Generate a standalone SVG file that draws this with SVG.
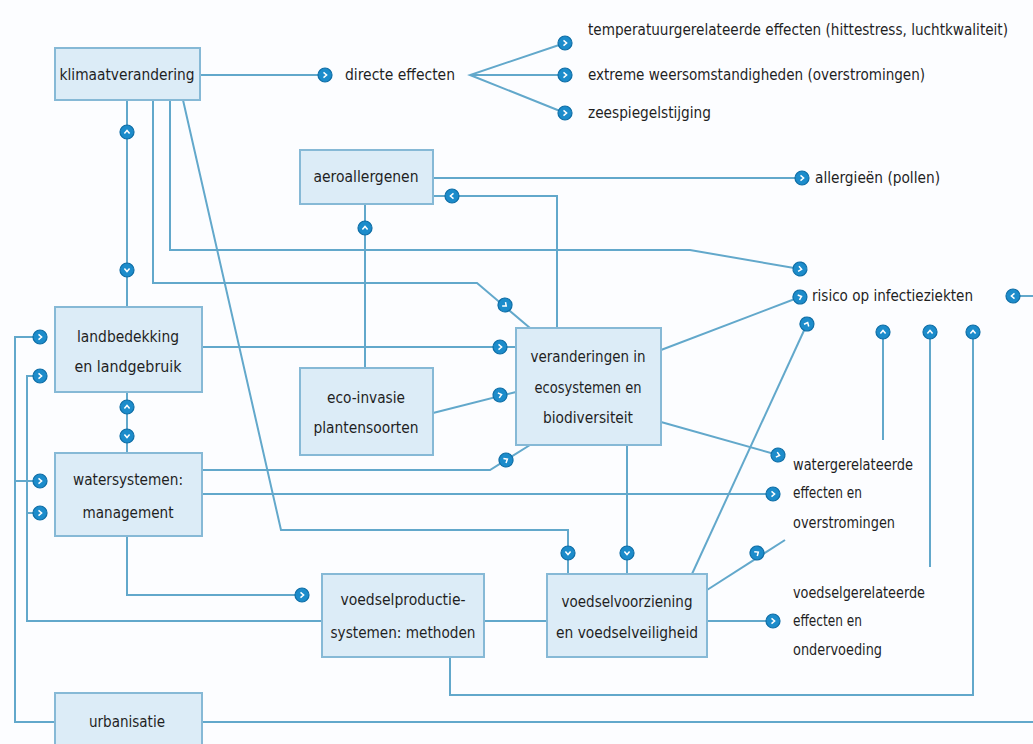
<svg xmlns="http://www.w3.org/2000/svg" xmlns:xlink="http://www.w3.org/1999/xlink" width="1033" height="744" viewBox="0 0 1033 744">
<style>
.bg{fill:#fcfdff}
.box{fill:#dcecf7;stroke:#86b9d6;stroke-width:2}
.ln{fill:none;stroke:#62a8cb;stroke-width:2}
.t{font-family:"Liberation Sans Narrow","DejaVu Sans Condensed","Liberation Sans",sans-serif;font-size:16px;fill:#1f1f1f}
.c{text-anchor:middle}
</style>
<defs>
<g id="d">
<circle r="7" fill="#1c8ccb" stroke="#0f6ea6" stroke-width="1.2"/>
<path d="M-1.5,-2.6 L1.6,0 L-1.5,2.6" fill="none" stroke="#ffffff" stroke-width="1.5"/>
</g>
</defs>
<rect class="bg" x="0" y="0" width="1033" height="744"/>

<g id="connectors">
<path class="ln" d="M200,75 H325"/>
<path class="ln" d="M565,43 L470,75 L565,113 M470,75 H565"/>
<path class="ln" d="M127,100 V307"/>
<path class="ln" d="M127,392 V453"/>
<path class="ln" d="M153,100 V283 H477 L530,328"/>
<path class="ln" d="M170,100 V250 H690 L800,269"/>
<path class="ln" d="M183,100 L281,530 H568 V574"/>
<path class="ln" d="M433,178 H802"/>
<path class="ln" d="M433,196 H557 V328"/>
<path class="ln" d="M365,204 V368"/>
<path class="ln" d="M202,347 H516"/>
<path class="ln" d="M433,413 L516,392"/>
<path class="ln" d="M202,470 H490 L530,445"/>
<path class="ln" d="M202,494 H773"/>
<path class="ln" d="M661,350 L800,297"/>
<path class="ln" d="M661,422 L778,455"/>
<path class="ln" d="M627,445 V574"/>
<path class="ln" d="M692,574 L807,324"/>
<path class="ln" d="M707,590 L785,540"/>
<path class="ln" d="M707,621 H773"/>
<path class="ln" d="M484,621 H547"/>
<path class="ln" d="M322,621 H27 V376 H40 M27,513 H40"/>
<path class="ln" d="M55,722 H15 V337 H40 M15,481 H40"/>
<path class="ln" d="M127,536 V595 H302"/>
<path class="ln" d="M450,657 V695 H973 V332"/>
<path class="ln" d="M930,332 V567"/>
<path class="ln" d="M883,332 V440"/>
<path class="ln" d="M1013,296 H1033"/>
<path class="ln" d="M202,722 H1033"/>

<use xlink:href="#d" transform="translate(325,75)"/>
<use xlink:href="#d" transform="translate(565,43)"/>
<use xlink:href="#d" transform="translate(565,75)"/>
<use xlink:href="#d" transform="translate(565,113)"/>
<use xlink:href="#d" transform="translate(802,178)"/>
<use xlink:href="#d" transform="translate(452,196) rotate(180)"/>
<use xlink:href="#d" transform="translate(365,228) rotate(-90)"/>
<use xlink:href="#d" transform="translate(127,132) rotate(-90)"/>
<use xlink:href="#d" transform="translate(127,270) rotate(90)"/>
<use xlink:href="#d" transform="translate(127,407) rotate(-90)"/>
<use xlink:href="#d" transform="translate(127,436) rotate(90)"/>
<use xlink:href="#d" transform="translate(40,337)"/>
<use xlink:href="#d" transform="translate(40,376)"/>
<use xlink:href="#d" transform="translate(40,481)"/>
<use xlink:href="#d" transform="translate(40,513)"/>
<use xlink:href="#d" transform="translate(505,305) rotate(40)"/>
<use xlink:href="#d" transform="translate(500,347)"/>
<use xlink:href="#d" transform="translate(500,395) rotate(-15)"/>
<use xlink:href="#d" transform="translate(506,460) rotate(-30)"/>
<use xlink:href="#d" transform="translate(800,269) rotate(10)"/>
<use xlink:href="#d" transform="translate(800,297) rotate(-20)"/>
<use xlink:href="#d" transform="translate(807,324) rotate(-65)"/>
<use xlink:href="#d" transform="translate(1013,296) rotate(180)"/>
<use xlink:href="#d" transform="translate(883,332) rotate(-90)"/>
<use xlink:href="#d" transform="translate(930,332) rotate(-90)"/>
<use xlink:href="#d" transform="translate(973,332) rotate(-90)"/>
<use xlink:href="#d" transform="translate(778,455) rotate(15)"/>
<use xlink:href="#d" transform="translate(773,494)"/>
<use xlink:href="#d" transform="translate(773,621)"/>
<use xlink:href="#d" transform="translate(757,553) rotate(-35)"/>
<use xlink:href="#d" transform="translate(568,553) rotate(90)"/>
<use xlink:href="#d" transform="translate(627,553) rotate(90)"/>
<use xlink:href="#d" transform="translate(302,595)"/>
</g>

<g id="klimaatverandering">
<rect class="box" x="55" y="48" width="145" height="52"/>
<text class="t c" x="127" y="80" textLength="135" lengthAdjust="spacingAndGlyphs">klimaatverandering</text>
</g>
<g id="aeroallergenen">
<rect class="box" x="300" y="150" width="133" height="54"/>
<text class="t c" x="366" y="182" textLength="105" lengthAdjust="spacingAndGlyphs">aeroallergenen</text>
</g>
<g id="landbedekking">
<rect class="box" x="55" y="307" width="147" height="85"/>
<text class="t c" x="128" y="342" textLength="102" lengthAdjust="spacingAndGlyphs">landbedekking</text>
<text class="t c" x="128" y="372" textLength="107" lengthAdjust="spacingAndGlyphs">en landgebruik</text>
</g>
<g id="eco-invasie">
<rect class="box" x="300" y="368" width="133" height="87"/>
<text class="t c" x="366" y="403" textLength="78" lengthAdjust="spacingAndGlyphs">eco-invasie</text>
<text class="t c" x="366" y="433" textLength="105" lengthAdjust="spacingAndGlyphs">plantensoorten</text>
</g>
<g id="veranderingen">
<rect class="box" x="516" y="328" width="145" height="117"/>
<text class="t c" x="588" y="362" textLength="115" lengthAdjust="spacingAndGlyphs">veranderingen in</text>
<text class="t c" x="588" y="393" textLength="107" lengthAdjust="spacingAndGlyphs">ecosystemen en</text>
<text class="t c" x="588" y="423" textLength="90" lengthAdjust="spacingAndGlyphs">biodiversiteit</text>
</g>
<g id="watersystemen">
<rect class="box" x="55" y="453" width="147" height="83"/>
<text class="t c" x="128" y="485" textLength="110" lengthAdjust="spacingAndGlyphs">watersystemen:</text>
<text class="t c" x="128" y="518" textLength="91" lengthAdjust="spacingAndGlyphs">management</text>
</g>
<g id="voedselproductie">
<rect class="box" x="322" y="574" width="162" height="83"/>
<text class="t c" x="403" y="605" textLength="125" lengthAdjust="spacingAndGlyphs">voedselproductie-</text>
<text class="t c" x="403" y="638" textLength="145" lengthAdjust="spacingAndGlyphs">systemen: methoden</text>
</g>
<g id="voedselvoorziening">
<rect class="box" x="547" y="574" width="160" height="83"/>
<text class="t c" x="627" y="607" textLength="131" lengthAdjust="spacingAndGlyphs">voedselvoorziening</text>
<text class="t c" x="627" y="638" textLength="142" lengthAdjust="spacingAndGlyphs">en voedselveiligheid</text>
</g>
<g id="urbanisatie">
<rect class="box" x="55" y="693" width="147" height="60"/>
<text class="t c" x="127" y="727" textLength="76" lengthAdjust="spacingAndGlyphs">urbanisatie</text>
</g>

<g id="directe-effecten">
<text class="t" x="345" y="80" textLength="110" lengthAdjust="spacingAndGlyphs">directe effecten</text>
</g>
<g id="temperatuur">
<text class="t" x="588" y="35" textLength="420" lengthAdjust="spacingAndGlyphs">temperatuurgerelateerde effecten (hittestress, luchtkwaliteit)</text>
</g>
<g id="extreme">
<text class="t" x="588" y="80" textLength="337" lengthAdjust="spacingAndGlyphs">extreme weersomstandigheden (overstromingen)</text>
</g>
<g id="zeespiegel">
<text class="t" x="588" y="118" textLength="123" lengthAdjust="spacingAndGlyphs">zeespiegelstijging</text>
</g>
<g id="allergieen">
<text class="t" x="815" y="183" textLength="125" lengthAdjust="spacingAndGlyphs">allergieën (pollen)</text>
</g>
<g id="risico">
<text class="t" x="812" y="301" textLength="161" lengthAdjust="spacingAndGlyphs">risico op infectieziekten</text>
</g>
<g id="watergerelateerd">
<text class="t" x="793" y="470" textLength="120" lengthAdjust="spacingAndGlyphs">watergerelateerde</text>
<text class="t" x="793" y="498" textLength="69" lengthAdjust="spacingAndGlyphs">effecten en</text>
<text class="t" x="793" y="528" textLength="102" lengthAdjust="spacingAndGlyphs">overstromingen</text>
</g>
<g id="voedselgerelateerd">
<text class="t" x="793" y="598" textLength="132" lengthAdjust="spacingAndGlyphs">voedselgerelateerde</text>
<text class="t" x="793" y="626" textLength="69" lengthAdjust="spacingAndGlyphs">effecten en</text>
<text class="t" x="793" y="655" textLength="89" lengthAdjust="spacingAndGlyphs">ondervoeding</text>
</g>
</svg>
